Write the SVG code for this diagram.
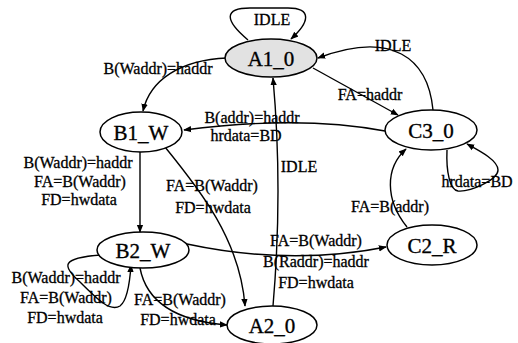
<svg xmlns="http://www.w3.org/2000/svg" width="518" height="343" viewBox="0 0 518 343" font-family="'Liberation Serif', 'Times New Roman', Times, 'DejaVu Serif', serif">
  <style>
    .node ellipse { fill: #ffffff; stroke: #000; stroke-width: 1.5; }
    .node.start ellipse { fill: #e2e2e2; }
    .node text { font-family: 'Liberation Serif', 'Times New Roman', Times, 'DejaVu Serif', serif; font-size: 21px; text-anchor: middle; fill: #000; stroke: #000; stroke-width: 0.35; }
    .edges path { fill: none; stroke: #000; stroke-width: 1.4; marker-end: url(#arrow); }
    .lbl { font-family: 'Liberation Serif', 'Times New Roman', Times, 'DejaVu Serif', serif; font-size: 16px; text-anchor: middle; fill: #000; stroke: #000; stroke-width: 0.3; }
  </style>
  <defs>
    <marker id="arrow" viewBox="0 0 10 10" refX="9" refY="5" markerWidth="8" markerHeight="8" markerUnits="userSpaceOnUse" orient="auto">
      <path d="M0,1 L10,5 L0,9 Z" fill="#000"/>
    </marker>
  </defs>
  <rect width="518" height="343" fill="#fff"/>

  <g class="edges">
    <!-- A1_0 self loop -->
    <path d="M248,40 C224,20 224,8 250,8 L288,8 C312,8 310,22 291,39"/>
    <!-- A1_0 to B1_W -->
    <path d="M227,58 C180,60 150,80 143,111"/>
    <!-- C3_0 to A1_0 -->
    <path d="M433,110 C428,58 392,30 318,58"/>
    <!-- A1_0 to C3_0 -->
    <path d="M313,68 L398,115"/>
    <!-- C3_0 to B1_W -->
    <path d="M385,131 Q300,115 184,130"/>
    <!-- C3_0 self loop -->
    <path d="M447,150 C446,172 450,190 458,191 C470,192 498,180 498,170 C498,160 478,150 467,144"/>
    <!-- B1_W to B2_W -->
    <path d="M140,152 L140,232"/>
    <!-- B1_W to A2_0 -->
    <path d="M165,147 C200,190 240,240 245,306"/>
    <!-- A2_0 to A1_0 -->
    <path d="M273,306 Q283,190 273,78"/>
    <!-- B2_W to C2_R -->
    <path d="M187,244 Q290,266 386,247"/>
    <!-- C2_R to C3_0 -->
    <path d="M407,227 C385,200 385,168 406,149"/>
    <!-- B2_W self loop -->
    <path d="M101,255 C60,258 62,266 80,282 C98,300 110,312 120,306 C128,300 130,280 131,265"/>
    <!-- B2_W to A2_0 -->
    <path d="M140,268 C148,310 190,322 227,325"/>
  </g>

  <g class="labels">
    <text class="lbl" x="272" y="25">IDLE</text>
    <text class="lbl" x="158" y="74">B(Waddr)=haddr</text>
    <text class="lbl" x="393" y="51">IDLE</text>
    <text class="lbl" x="370" y="100">FA=haddr</text>
    <text class="lbl" x="252" y="123">B(addr)=haddr</text>
    <text class="lbl" x="246" y="141">hrdata=BD</text>
    <text class="lbl" x="299" y="172">IDLE</text>
    <text class="lbl" x="477" y="187">hrdata=BD</text>
    <text class="lbl" x="78" y="168">B(Waddr)=haddr</text>
    <text class="lbl" x="80" y="187">FA=B(Waddr)</text>
    <text class="lbl" x="79" y="205">FD=hwdata</text>
    <text class="lbl" x="212" y="191">FA=B(Waddr)</text>
    <text class="lbl" x="213" y="213">FD=hwdata</text>
    <text class="lbl" x="390" y="212">FA=B(addr)</text>
    <text class="lbl" x="316" y="246">FA=B(Waddr)</text>
    <text class="lbl" x="316" y="267">B(Raddr)=haddr</text>
    <text class="lbl" x="316" y="288">FD=hwdata</text>
    <text class="lbl" x="66" y="283">B(Waddr)=haddr</text>
    <text class="lbl" x="66" y="303">FA=B(Waddr)</text>
    <text class="lbl" x="65" y="323">FD=hwdata</text>
    <text class="lbl" x="180" y="305">FA=B(Waddr)</text>
    <text class="lbl" x="178" y="325">FD=hwdata</text>
  </g>

  <g id="A1_0" class="node start">
    <ellipse cx="271" cy="58" rx="46" ry="19"/>
    <text x="271" y="66">A1_0</text>
  </g>
  <g id="B1_W" class="node">
    <ellipse cx="141" cy="132" rx="41" ry="20"/>
    <text x="141" y="140">B1_W</text>
  </g>
  <g id="C3_0" class="node">
    <ellipse cx="431" cy="130" rx="46" ry="20"/>
    <text x="431" y="138">C3_0</text>
  </g>
  <g id="B2_W" class="node">
    <ellipse cx="143" cy="250" rx="46" ry="18"/>
    <text x="143" y="258">B2_W</text>
  </g>
  <g id="C2_R" class="node">
    <ellipse cx="432" cy="245" rx="45" ry="20"/>
    <text x="432" y="253">C2_R</text>
  </g>
  <g id="A2_0" class="node">
    <ellipse cx="272" cy="325" rx="45" ry="19"/>
    <text x="272" y="333">A2_0</text>
  </g>
</svg>
